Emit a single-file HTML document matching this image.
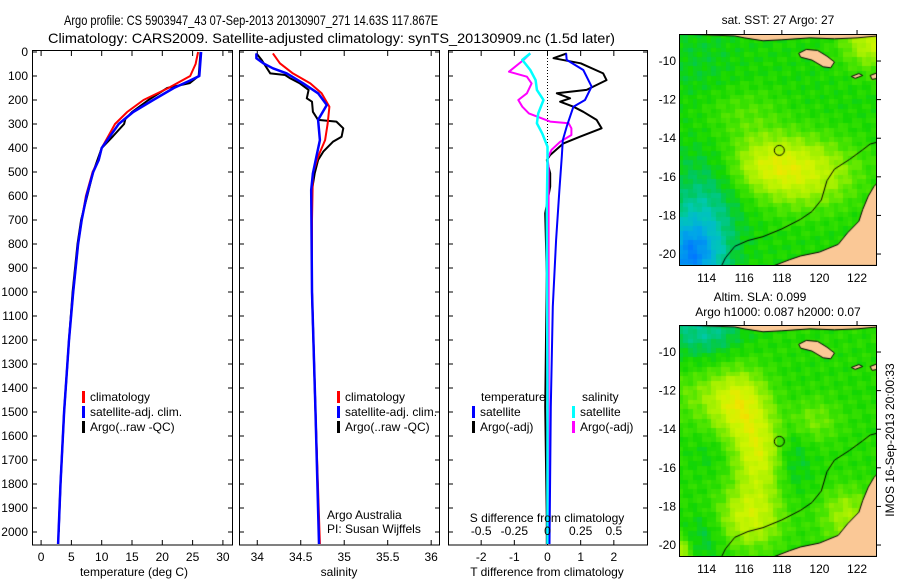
<!DOCTYPE html>
<html><head><meta charset="utf-8">
<style>
html,body{margin:0;padding:0;background:#fff;}
svg{display:block;font-family:"Liberation Sans",sans-serif;}
text{fill:#000;}
</style></head>
<body>
<div style="position:relative;width:900px;height:580px;">
<canvas id="map1" width="198" height="232" style="position:absolute;left:679px;top:34px;"></canvas>
<canvas id="map2" width="198" height="232" style="position:absolute;left:679px;top:325px;"></canvas>
<svg id="svg" width="900" height="580" style="position:absolute;left:0;top:0;">
<g transform="translate(64,25) scale(0.82,1)"><text x="0" y="0" text-anchor="start" font-size="13.5">Argo profile: CS 5903947_43 07-Sep-2013 20130907_271 14.63S 117.867E</text></g>
<text x="48" y="43" text-anchor="start" font-size="14" textLength="567" lengthAdjust="spacingAndGlyphs">Climatology: CARS2009. Satellite-adjusted climatology: synTS_20130909.nc (1.5d later)</text>
<text x="778" y="24" text-anchor="middle" font-size="12">sat. SST: 27 Argo: 27</text>
<text x="760" y="301" text-anchor="middle" font-size="12">Altim. SLA: 0.099</text>
<text x="778" y="316" text-anchor="middle" font-size="12">Argo h1000: 0.087 h2000: 0.07</text>
<text transform="translate(894,440) rotate(-90)" text-anchor="middle" font-size="12">IMOS 16-Sep-2013 20:00:33</text>
<text x="327" y="519" font-size="12">Argo Australia</text>
<text x="327" y="533" font-size="12">PI: Susan Wijffels</text>
</svg>
</div>
<script>
// ---------- DATA ----------
const depthTicks=[0,100,200,300,400,500,600,700,800,900,1000,1100,1200,1300,1400,1500,1600,1700,1800,1900,2000];
const tempTicks=[0,5,10,15,20,25,30];
const salTicks=[34,34.5,35,35.5,36];
const tdTicks=[-2,-1,0,1,2];
const sdTicks=[-0.5,-0.25,0,0.25,0.5];

const climTDepth=[0,50,100,150,200,250,300,350,400,450,500,600,700,800,1000,1200,1500,1800,2050];
const climT=[25.9,25.5,24.6,21.0,16.9,14.2,12.2,11.1,10.0,9.5,8.5,7.4,6.7,6.1,5.3,4.6,3.8,3.2,2.8];
const satTDepth=[0,100,120,150,200,250,300,350,400,450,500,600,700,800,1000,1200,1500,1800,2050];
const satT=[26.4,26.1,24.5,21.9,18.5,15.2,12.8,11.4,10.0,9.5,8.6,7.5,6.7,6.1,5.3,4.6,3.8,3.2,2.8];
const argoTDepth=[0,100,130,150,200,250,280,300,350,400,500,600,700,800,1000,1200,1500,1800,2000];
const argoT=[26.3,26.0,24.5,20.8,17.7,15.0,13.9,13.7,11.9,10.0,8.6,7.6,6.6,6.0,5.2,4.6,3.8,3.2,2.9];

const climSDepth=[6,47,89,131,172,228,297,367,436,506,700,1000,1500,2050];
const climS=[34.18,34.26,34.41,34.61,34.74,34.83,34.81,34.78,34.70,34.64,34.63,34.63,34.67,34.72];
const satSDepth=[6,26,47,68,89,131,172,221,283,367,436,506,575,1000,1500,2050];
const satS=[33.99,33.99,34.07,34.18,34.34,34.53,34.70,34.80,34.70,34.72,34.68,34.64,34.62,34.63,34.67,34.71];
const argoSDepth=[6,33,89,96,110,131,158,193,207,249,283,290,318,353,374,415,450,506,575,1000,1500,2000];
const argoS=[33.99,34.05,34.15,34.32,34.38,34.49,34.59,34.57,34.63,34.64,34.70,34.91,34.99,34.97,34.87,34.76,34.70,34.66,34.63,34.63,34.67,34.71];

const dTDepth=[6,26,47,89,117,158,172,193,207,228,249,283,318,353,381,429,450,506,561,672,922,1478,1950,2050];
const dTArgo=[0.58,0.18,1.0,1.68,1.78,1.18,0.28,0.68,0.38,0.78,1.08,1.48,1.63,0.98,0.48,0.08,-0.02,0.08,0.08,-0.07,-0.02,-0.07,-0.02,-0.02];
const dTSatDepth=[6,33,75,144,200,228,311,367,436,575,783,1061,1478,2050];
const dTSat=[0.56,0.58,1.08,1.33,1.13,0.78,0.58,0.46,0.43,0.36,0.26,0.16,0.10,0.06];
const dSSatDepth=[6,33,75,117,158,200,256,297,339,394,450,644,1478,2050];
const dSSat=[-0.13,-0.19,-0.13,-0.09,-0.08,-0.03,-0.07,-0.08,-0.04,0.0,0.0,-0.005,0.0,0.0];
const dSArgoDepth=[6,33,82,103,131,172,200,228,256,290,297,318,346,374,408,443,478,644,1478,2050];
const dSArgo=[-0.13,-0.18,-0.29,-0.155,-0.12,-0.155,-0.22,-0.19,-0.14,0.02,0.16,0.18,0.18,0.095,0.03,0.0,0.008,0.008,0.008,0.008];

// ---------- LAYOUT ----------
const NS='http://www.w3.org/2000/svg';
const svg=document.getElementById('svg');
const Y0=52, YS=0.24, YB=545;
const yD=d=>Y0+d*YS;
function el(tag,attrs,parent){const e=document.createElementNS(NS,tag);for(const k in attrs)e.setAttribute(k,attrs[k]);(parent||svg).appendChild(e);return e;}
function txt(x,y,s,anchor,size,parent){const t=el('text',{x:x,y:y,'text-anchor':anchor||'middle','font-size':size||12},parent);t.textContent=s;return t;}

const panels=[
 {name:'temperature-panel',x0:32,x1:232,vmin:-1.5,vmax:31.5},
 {name:'salinity-panel',x0:239,x1:439,vmin:33.79,vmax:36.09},
 {name:'difference-panel',x0:448,x1:647,vmin:-3,vmax:3}
];
panels.forEach(p=>{p.x=v=>p.x0+(v-p.vmin)/(p.vmax-p.vmin)*(p.x1-p.x0);});

function frame(p){
  const g=el('g',{});
  
  
  const r=el('rect',{x:p.x0+0.5,y:Y0-1.5,width:p.x1-p.x0,height:YB-Y0+1.5,fill:'none',stroke:'#000','stroke-width':1},g);
  
  
  depthTicks.forEach(d=>{
    el('line',{x1:p.x0,x2:p.x0+5,y1:yD(d),y2:yD(d),stroke:'#000'},g);
    el('line',{x1:p.x1-4,x2:p.x1,y1:yD(d),y2:yD(d),stroke:'#000'},g);
  });
  return g;
}
function line(p,vals,deps,color,w,name,scale){
  const pts=vals.map((v,i)=>p.x(v*(scale||1)).toFixed(1)+','+yD(Math.min(deps[i],2050)).toFixed(1)).join(' ');
  const e=el('polyline',{points:pts,fill:'none',stroke:color,'stroke-width':w,'stroke-linejoin':'round'});
  
  
}
function xticks(p,ticks,scale){
  ticks.forEach(t=>{
    const x=p.x(t*(scale||1));
    el('line',{x1:x,x2:x,y1:YB,y2:YB-5,stroke:'#000'});
    el('line',{x1:x,x2:x,y1:Y0-1,y2:Y0+4,stroke:'#000'});
  });
}
function legend(x,y0,items,group){
  items.forEach((it,i)=>{
    const y=y0+i*15;
    const m=el('rect',{x:x,y:y-6,width:3,height:12,fill:it[1]});
    
    
    const t=txt(x+8,y+4,it[0],'start',12);
    
    
  });
}

// Panel 1
const P1=panels[0];
frame(P1);
depthTicks.forEach(d=>{const t=txt(28,yD(d)+4,String(d),'end',12);});
xticks(P1,tempTicks);
tempTicks.forEach(t=>{const e=txt(P1.x(t),561,String(t));});
(()=>{const e=txt(134,576,'temperature (deg C)');})();
line(P1,argoT,argoTDepth,'#000',2,'argo-temperature-line');
line(P1,climT,climTDepth,'#f00',2,'climatology-temperature-line');
line(P1,satT,satTDepth,'#00f',2.5,'satellite-temperature-line');
legend(82,397,[['climatology','#f00'],['satellite-adj. clim.','#00f'],['Argo(..raw -QC)','#000']],'temp-legend');

// Panel 2
const P2=panels[1];
frame(P2);
xticks(P2,salTicks);
salTicks.forEach(t=>{const e=txt(P2.x(t),561,String(t));});
(()=>{const e=txt(339,576,'salinity');})();
line(P2,argoS,argoSDepth,'#000',2,'argo-salinity-line');
line(P2,climS,climSDepth,'#f00',2,'climatology-salinity-line');
line(P2,satS,satSDepth,'#00f',2.5,'satellite-salinity-line');
legend(337,397,[['climatology','#f00'],['satellite-adj. clim.','#00f'],['Argo(..raw -QC)','#000']],'sal-legend');

// Panel 3
const P3=panels[2];
frame(P3);
el('line',{x1:P3.x(0),x2:P3.x(0),y1:Y0,y2:YB,stroke:'#000','stroke-dasharray':'1,2'});
xticks(P3,tdTicks);
tdTicks.forEach(t=>{const e=txt(P3.x(t),561,String(t));});
(()=>{const e=txt(547,576,'T difference from climatology');})();
line(P3,dTArgo,dTDepth,'#000',2,'argo-tdiff-line');
line(P3,dSArgo,dSArgoDepth,'#f0f',2,'argo-sdiff-line',4);
line(P3,dSSat,dSSatDepth,'#0ff',2.5,'satellite-sdiff-line',4);
line(P3,dTSat,dTSatDepth,'#00f',2,'satellite-tdiff-line');
sdTicks.forEach(t=>{const e=txt(P3.x(t*4),535,String(t));});
(()=>{const e=txt(547,522,'S difference from climatology');})();
(()=>{const e=txt(481,401,'temperature','start');})();
(()=>{const e=txt(582,401,'salinity','start');})();
legend(472,412,[['satellite','#00f'],['Argo(-adj)','#000']],'tdiff-legend');
legend(572,412,[['satellite','#0ff'],['Argo(-adj)','#f0f']],'sdiff-legend');

// ---------- MAPS ----------
const LON0=112.53, LAT0=-8.6, LATS=19.3, LONS=18.8;
const mx=lon=>(lon-LON0)*LONS, my=lat=>(LAT0-lat)*LATS;
const g2=(lon,lat,cx,cy,sx,sy)=>Math.exp(-((lon-cx)**2/(2*sx*sx)+(lat-cy)**2/(2*sy*sy)));
const stops=[[0,[0,120,255]],[0.15,[0,170,230]],[0.3,[0,200,180]],[0.42,[0,200,90]],[0.52,[20,215,0]],[0.62,[70,228,0]],[0.74,[160,240,0]],[0.85,[205,245,0]],[0.95,[240,230,0]],[1,[245,200,0]]];
function col(v){v=Math.max(0,Math.min(1,v));for(let i=1;i<stops.length;i++){if(v<=stops[i][0]){const a=stops[i-1],b=stops[i],f=(v-a[0])/(b[0]-a[0]);return 'rgb('+a[1].map((c,k)=>Math.round(c+(b[1][k]-c)*f)).join(',')+')';}}return 'rgb(245,200,0)';}
const tex=(lon,lat)=>0.025*Math.sin(lon*7.3+lat*3.1)+0.02*Math.cos(lat*8.7-lon*2.3);
const f1=(lo,la)=>0.53+0.3*g2(lo,la,119.2,-15.8,2.0,1.3)+0.18*g2(lo,la,117,-15.3,1.4,1)+0.3*g2(lo,la,123,-9,1.2,1)+0.1*g2(lo,la,116,-12.8,1.5,1)-0.45*g2(lo,la,113.2,-20.2,1.1,1.4)-0.15*g2(lo,la,114,-17.5,1.4,2)-0.05*g2(lo,la,113.5,-10,1.5,1.5)+tex(lo,la);
const f2=(lo,la)=>0.55+0.3*g2(lo,la,115.8,-12.8,1,1.3)+0.3*g2(lo,la,116.8,-15.4,0.9,1.5)+0.28*g2(lo,la,116.3,-18.6,1.2,1.1)+0.12*g2(lo,la,114,-12.3,1.5,1)+0.14*g2(lo,la,119.6,-13.6,1,0.8)+0.2*g2(lo,la,121.5,-18.5,1,1)+0.25*g2(lo,la,112.6,-20.4,0.4,0.5)-0.2*g2(lo,la,113.8,-8.9,1.5,1)-0.1*g2(lo,la,118.6,-15.3,0.7,1.5)-0.1*g2(lo,la,114,-19.6,0.7,1)-0.05*g2(lo,la,114.2,-15.3,0.7,0.7)+tex(lo,la);
const landTop=[[112.5,-8.5],[123.1,-8.5],[123.1,-8.7],[122,-8.8],[120.8,-8.85],[119.5,-8.8],[118,-8.9],[117,-8.95],[116,-8.8],[115.5,-8.7],[112.5,-8.6]];
const sumba=[[118.9,-9.6],[119.3,-9.4],[119.9,-9.45],[120.4,-9.75],[120.8,-10.05],[120.6,-10.35],[120.2,-10.3],[119.6,-9.95],[119.0,-9.8]];
const isl=[[121.7,-10.8],[122.1,-10.65],[122.3,-10.75],[121.9,-10.9]];
const isl2=[[122.7,-10.75],[123.1,-10.6],[123.1,-10.9],[122.8,-10.95]];
const aus=[[123.1,-16.3],[122.9,-16.5],[122.6,-17.0],[122.3,-17.7],[122.1,-18.3],[121.5,-18.9],[121.0,-19.5],[120,-19.9],[119,-20.1],[118.4,-20.3],[117.6,-20.6],[123.1,-20.6]];
const contour=[[114.8,-20.6],[115.0,-20.2],[115.5,-19.6],[116.2,-19.3],[117,-19.1],[118,-18.7],[119,-18.2],[119.6,-17.8],[120.1,-17.2],[120.4,-16.2],[120.8,-15.6],[121.6,-15.1],[122.3,-14.6],[122.7,-14.3],[123.1,-14.2]];
const argoLon=117.867, argoLat=-14.63;
function drawMap(id,f){
  const c=document.getElementById(id).getContext('2d');
  const cs=4.7;
  for(let px=0;px<198;px+=cs)for(let py=0;py<232;py+=cs){
    const lo=LON0+(px+cs/2)/LONS, la=LAT0-(py+cs/2)/LATS;
    c.fillStyle=col(f(lo,la));c.fillRect(Math.floor(px),Math.floor(py),Math.ceil(cs)+1,Math.ceil(cs)+1);
  }
  c.fillStyle='#fac896';c.strokeStyle='#000';c.lineWidth=1;
  [landTop,sumba,isl,isl2,aus].forEach(poly=>{c.beginPath();poly.forEach((p,i)=>i?c.lineTo(mx(p[0]),my(p[1])):c.moveTo(mx(p[0]),my(p[1])));c.closePath();c.fill();c.stroke();});
  c.beginPath();contour.forEach((p,i)=>i?c.lineTo(mx(p[0]),my(p[1])):c.moveTo(mx(p[0]),my(p[1])));c.stroke();
  c.beginPath();c.arc(mx(argoLon),my(argoLat),5,0,2*Math.PI);c.stroke();
}
drawMap('map1',f1);drawMap('map2',f2);

const latTicks=[-10,-12,-14,-16,-18,-20], lonTicks=[114,116,118,120,122];
[[34,'map1'],[325,'map2']].forEach(([top,nm])=>{
  const r=el('rect',{x:679.5,y:top+0.5,width:197,height:231,fill:'none',stroke:'#000'});
  
  
  latTicks.forEach(l=>{const y=top+my(l);
    el('line',{x1:877,x2:881,y1:y,y2:y,stroke:'#000'});
    const t=txt(676,y+4,String(l),'end',12);});
  lonTicks.forEach(l=>{const x=679+mx(l);
    el('line',{x1:x,x2:x,y1:top,y2:top-4,stroke:'#000'});
    const t=txt(x,top+248,String(l),'middle',12);});
});
</script>
</body></html>
